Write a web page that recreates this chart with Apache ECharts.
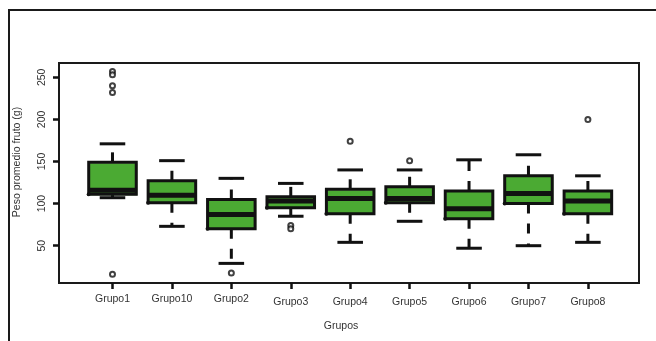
<!DOCTYPE html>
<html><head><meta charset="utf-8">
<script src="https://cdn.jsdelivr.net/npm/echarts@6/dist/echarts.min.js"></script>
<style>html,body{margin:0;padding:0;background:#fff}#c{width:656px;height:341px}</style>
</head><body><div id="c"></div>
<script>
const categories = ['Grupo1','Grupo10','Grupo2','Grupo3','Grupo4','Grupo5','Grupo6','Grupo7','Grupo8'];
const lowWhisker  = [107, 73, 29, 85, 54, 79, 47, 50, 54];
const q1          = [111, 101, 70, 95, 88, 101, 82, 100, 88];
const median      = [116, 110, 87, 103, 106, 106, 94, 112, 103];
const q3          = [149, 127, 105, 108, 117, 120, 115, 133, 115];
const highWhisker = [171, 151, 130, 124, 140, 140, 152, 158, 133];
const outlierGroup = [1, 1, 1, 1, 1, 3, 4, 4, 5, 6, 9];
const outlierValue = [257, 253, 240, 232, 16, 17.5, 74, 70, 174, 151, 200];
const yTicks = [50, 100, 150, 200, 250];
const xTicks = [1, 2, 3, 4, 5, 6, 7, 8, 9];

const FONT = 'Liberation Sans, Arial, sans-serif';
const FS = 10.5;
const GREEN = '#4BAA33';
const INK = '#111';

const boxData = categories.map((c, i) => [i + 1, lowWhisker[i], q1[i], median[i], q3[i], highWhisker[i]]);
const outlierData = outlierGroup.map((g, i) => [g, outlierValue[i]]);

function renderBox(params, api) {
  const x = api.value(0);
  const pLow = api.coord([x, api.value(1)]);
  const pQ1 = api.coord([x, api.value(2)]);
  const pMed = api.coord([x, api.value(3)]);
  const pQ3 = api.coord([x, api.value(4)]);
  const pHigh = api.coord([x, api.value(5)]);
  const bw = api.size([0.8, 0])[0];
  const cw = api.size([0.43, 0])[0];
  const cx = pMed[0];
  const dash = {stroke: INK, lineWidth: 3, lineDash: [10, 10]};
  const solid = {stroke: INK, lineWidth: 3};
  return {
    type: 'group',
    children: [
      {type: 'line', shape: {x1: cx, y1: pQ3[1], x2: cx, y2: pHigh[1]}, style: dash},
      {type: 'line', shape: {x1: cx, y1: pQ1[1], x2: cx, y2: pLow[1]}, style: dash},
      {type: 'line', shape: {x1: cx - cw / 2, y1: pHigh[1], x2: cx + cw / 2, y2: pHigh[1]}, style: solid},
      {type: 'line', shape: {x1: cx - cw / 2, y1: pLow[1], x2: cx + cw / 2, y2: pLow[1]}, style: solid},
      {type: 'rect', shape: {x: cx - bw / 2 + 1, y: pQ3[1] + 1, width: bw, height: pQ1[1] - pQ3[1]}, style: {fill: GREEN}},
      {type: 'rect', shape: {x: cx - bw / 2, y: pQ3[1], width: bw, height: pQ1[1] - pQ3[1]}, style: {fill: 'none', stroke: INK, lineWidth: 3}},
      {type: 'line', shape: {x1: cx - bw / 2, y1: pMed[1], x2: cx + bw / 2, y2: pMed[1]}, style: {stroke: INK, lineWidth: 5}},
      {type: 'circle', shape: {cx: cx - bw / 2, cy: pQ1[1], r: 2}, style: {fill: INK}}
    ]
  };
}

const chart = echarts.init(document.getElementById('c'), null, {renderer: 'canvas'});
chart.setOption({
  animation: false,
  backgroundColor: '#fff',
  grid: {left: 59, top: 63, width: 580, height: 220, show: true, borderColor: '#1a1a1a', borderWidth: 2, backgroundColor: 'transparent'},
  xAxis: {
    type: 'value', min: 0.1, max: 9.86,
    splitLine: {show: false},
    axisLine: {show: false},
    axisTick: {show: true, customValues: xTicks, length: 6, lineStyle: {color: INK, width: 2.5}},
    axisLabel: {
      customValues: xTicks, margin: 11, fontSize: FS, fontFamily: FONT, color: '#333',
      formatter: v => '{' + (v <= 3 ? 'a' : 'b') + '|' + categories[Math.round(v) - 1] + '}',
      rich: {a: {fontSize: FS, fontFamily: FONT, color: '#333'}, b: {fontSize: FS, fontFamily: FONT, color: '#333', padding: [3, 0, 0, 0]}}
    }
  },
  yAxis: {
    type: 'value', min: 5.7, max: 267,
    splitLine: {show: false},
    axisLine: {show: false},
    axisTick: {show: true, customValues: yTicks, length: 6, lineStyle: {color: INK, width: 2.5}},
    axisLabel: {customValues: yTicks, rotate: 90, margin: 11, fontSize: FS, fontFamily: FONT, color: '#333'}
  },
  graphic: [
    {type: 'rect', shape: {x: 9, y: 10, width: 800, height: 500}, style: {fill: 'none', stroke: '#1a1a1a', lineWidth: 2}, silent: true},
    {type: 'text', x: 17, y: 162, rotation: Math.PI / 2, style: {text: 'Peso promedio fruto (g)', fontSize: FS, fontFamily: FONT, fill: '#333', align: 'center', verticalAlign: 'middle'}},
    {type: 'text', x: 341, y: 326, style: {text: 'Grupos', fontSize: FS, fontFamily: FONT, fill: '#333', align: 'center', verticalAlign: 'middle'}}
  ],
  series: [
    {type: 'custom', renderItem: renderBox, data: boxData, encode: {x: 0, y: [1, 2, 3, 4, 5]}, clip: false, z: 2},
    {type: 'scatter', data: outlierData, symbol: 'emptyCircle', symbolSize: 5, itemStyle: {color: INK, borderWidth: 1.5}, z: 3}
  ]
});
</script>
</body></html>
